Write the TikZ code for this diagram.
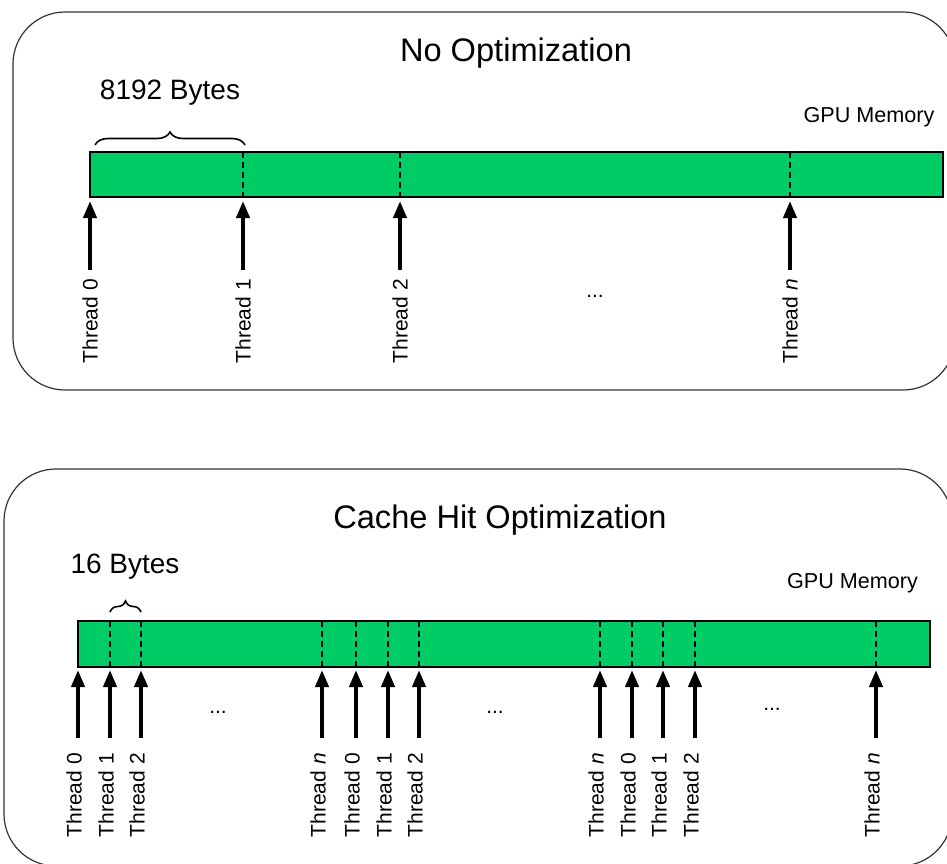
\documentclass[tikz,border=0pt]{standalone}
\usepackage{fontspec}
\setmainfont{Liberation Sans}
\usetikzlibrary{arrows.meta,decorations.pathreplacing}
\definecolor{memgreen}{HTML}{00CC66}
\begin{document}
\begin{tikzpicture}[x=1pt,y=-1pt,
  panel/.style={draw=black!80, line width=1.2pt, rounded corners=52pt},
  membar/.style={draw=black, line width=2.4pt, fill=memgreen},
  divider/.style={draw=black, line width=2.4pt, dash pattern=on 6pt off 4pt},
  thr/.style={-{Triangle[length=17pt,width=13pt]}, line width=4pt},
  tlabel/.style={rotate=90, anchor=east, inner sep=0pt, font=\fontsize{21}{24}\selectfont},
  dots/.style={inner sep=0pt, font=\fontsize{21}{24}\selectfont},
  title/.style={anchor=base, inner sep=0pt, font=\fontsize{32.6}{38}\selectfont},
  bytes/.style={anchor=base, inner sep=0pt, font=\fontsize{28}{32}\selectfont},
  gpu/.style={anchor=base, inner sep=0pt, font=\fontsize{21.6}{26}\selectfont},
  brc/.style={decorate, decoration={brace, amplitude=13pt}, line width=1.6pt}]
\useasboundingbox (0,0) rectangle (947,863);

% ---------- Panels ----------
\begin{scope}
\clip (0,0) rectangle (947,863);
\draw[panel] (13,12) rectangle (955,390);
\draw[panel] (4,469) rectangle (952,866);
\end{scope}

% ---------- Top panel ----------
\node[title] (t1) at (516,61) {No Optimization};
\node[bytes] (b1) at (170,99) {8192 Bytes};
\node[gpu] (g1) at (869,122) {GPU Memory};
\draw[membar] (90,152) rectangle (943,197);
\foreach \x in {243,400,790}{
  \draw[divider] (\x,152) -- (\x,197);
}
\coordinate (br1a) at (95,145);
\coordinate (br1b) at (245,145);
\draw[brc] (br1a) -- (br1b);

\foreach \x/\nm/\txt in {90/u0/Thread 0, 243/u1/Thread 1, 400/u2/Thread 2, 790/un/Thread \textit{n}}{
  \coordinate (\nm tip) at (\x,201);
  \coordinate (\nm base) at (\x,270);
  \draw[thr] (\nm base) -- (\nm tip);
  \node[tlabel] (\nm lab) at (\x,279) {\txt};
}
\node[dots] (d1) at (595,296) {...};

% ---------- Bottom panel ----------
\node[title] (t2) at (500,528) {Cache Hit Optimization};
\node[bytes] (b2) at (125,573) {16 Bytes};
\node[gpu] (g2) at (852.5,588) {GPU Memory};
\draw[membar] (78,621) rectangle (930,667);
\foreach \x in {110,141,322,356,388,419,600,632,663,695,876}{
  \draw[divider] (\x,621) -- (\x,667);
}
\coordinate (br2a) at (110,612);
\coordinate (br2b) at (141,612);
\draw[brc,decoration={brace,amplitude=11pt}] (br2a) -- (br2b);

\foreach \x/\nm/\txt in {78/v0/Thread 0, 110/v1/Thread 1, 141/v2/Thread 2,
  322/w0/Thread \textit{n}, 356/w1/Thread 0, 388/w2/Thread 1, 419/w3/Thread 2,
  600/x0/Thread \textit{n}, 632/x1/Thread 0, 663/x2/Thread 1, 695/x3/Thread 2,
  876/y0/Thread \textit{n}}{
  \coordinate (\nm tip) at (\x,670);
  \coordinate (\nm base) at (\x,738);
  \draw[thr] (\nm base) -- (\nm tip);
  \node[tlabel] (\nm lab) at (\x-4,753) {\txt};
}
\node[dots] (d2) at (218,712) {...};
\node[dots] (d3) at (495,712) {...};
\node[dots] (d4) at (772,709) {...};
\end{tikzpicture}
\end{document}
